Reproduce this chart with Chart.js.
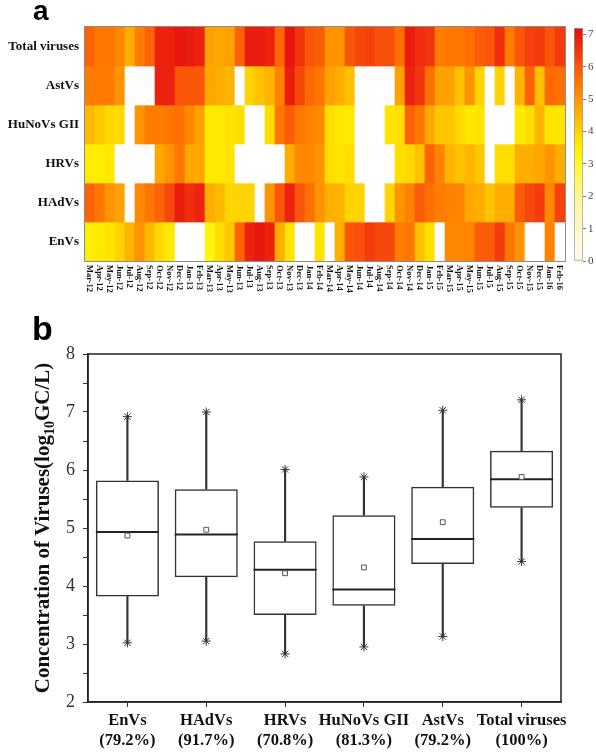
<!DOCTYPE html>
<html><head><meta charset="utf-8">
<script src="https://cdn.jsdelivr.net/npm/chart.js@4.4.1/dist/chart.umd.min.js"></script>
<style>
html,body{margin:0;padding:0;background:#fff;}
body{width:596px;height:752px;position:relative;overflow:hidden;}
canvas{position:absolute;display:block;}
</style></head><body>
<canvas id="heat" width="596" height="310" style="left:0;top:0"></canvas>
<canvas id="cbar" width="30" height="260" style="left:566px;top:15px"></canvas>
<canvas id="box" width="596" height="452" style="left:0;top:300px"></canvas>
<script>
// ---------- Panel a: heatmap data ----------
const months = ['Mar-12','Apr-12','May-12','Jun-12','Jul-12','Aug-12','Sep-12','Oct-12','Nov-12','Dec-12','Jan-13','Feb-13',
'Mar-13','Apr-13','May-13','Jun-13','Jul-13','Aug-13','Sep-13','Oct-13','Nov-13','Dec-13','Jan-14','Feb-14',
'Mar-14','Apr-14','May-14','Jun-14','Jul-14','Aug-14','Sep-14','Oct-14','Nov-14','Dec-14','Jan-15','Feb-15',
'Mar-15','Apr-15','May-15','Jun-15','Jul-15','Aug-15','Sep-15','Oct-15','Nov-15','Dec-15','Jan-16','Feb-16'];
const heatRows = ['Total viruses','AstVs','HuNoVs GII','HRVs','HAdVs','EnVs'];
const totalViruses = [5.8,5.5,5.5,5.2,4.6,5.4,5.8,6.8,6.8,7.0,6.9,6.8, 4.8,4.7,4.8,5.8,6.9,6.9,6.8,5.7,7.0,6.5,6.0,5.9, 5.0,5.0,6.0,6.2,6.3,6.1,6.1,5.6,6.9,6.6,6.5,5.4, 5.5,5.5,5.6,5.9,6.0,6.6,5.4,6.0,6.3,6.4,6.0,6.4];
const astVs = [5.4,5.4,5.4,5.0,null,null,null,6.8,6.8,6.0,6.0,6.0, 4.7,4.6,4.5,null,4.0,4.3,4.5,5.3,6.9,6.2,5.7,5.5, 4.8,4.6,4.3,null,null,null,null,4.8,6.8,6.5,5.6,4.8, 4.8,4.3,5.0,4.0,null,4.0,null,4.5,5.8,4.3,5.7,5.6];
const huNoVsGII = [4.4,4.2,3.9,3.9,null,5.0,5.4,5.4,5.5,5.6,5.2,4.8, 3.6,3.6,3.7,3.8,null,null,3.8,5.5,5.9,5.5,5.3,5.2, 3.8,3.6,3.6,null,null,null,3.7,3.8,5.8,5.5,4.7,4.2, 4.2,3.9,3.6,3.7,null,null,null,3.6,3.8,4.5,3.7,3.7];
const hrVs = [3.5,3.5,3.6,null,null,null,null,4.7,5.0,5.5,4.7,4.7, 3.6,3.6,3.7,null,null,null,null,null,4.6,5.2,5.2,5.0, 3.8,3.7,3.8,null,null,null,null,3.8,3.9,4.3,5.8,5.3, 4.5,4.3,4.5,4.2,null,3.8,3.8,4.6,4.6,4.7,5.0,4.6];
const hAdVs = [5.8,5.5,5.0,4.8,null,5.2,5.5,5.8,6.2,6.9,6.6,6.8, 4.6,4.4,4.0,4.0,4.0,null,5.0,6.0,6.8,6.0,5.6,5.0, 4.6,4.5,4.0,4.0,null,null,4.0,5.0,5.3,5.9,5.6,5.4, 5.3,5.3,4.7,4.6,4.3,4.6,4.6,5.9,6.2,6.4,5.2,6.3];
const enVs = [3.5,3.6,3.7,4.0,4.5,5.0,4.4,3.9,3.6,null,null,null, 3.3,3.8,4.2,5.8,6.8,7.0,6.8,4.6,3.7,null,null,3.7, null,4.6,6.0,6.1,6.4,6.2,6.2,5.4,5.5,4.3,3.8,null, 5.2,5.2,5.3,5.9,5.9,6.4,5.5,5.0,null,null,5.3,null];
const colorbarRange = [0, 7.2];
const colorbarStep = 1;

// ---------- Panel b: box plot data ----------
const boxCats = ['EnVs','HAdVs','HRVs','HuNoVs GII','AstVs','Total viruses'];
const detectRate = ['(79.2%)','(91.7%)','(70.8%)','(81.3%)','(79.2%)','(100%)'];
const whiskerMin = [3.02,3.05,2.83,2.95,3.13,4.42];
const q1 = [3.82,4.15,3.50,3.66,4.38,5.35];
const median = [4.93,4.89,4.28,3.94,4.81,5.84];
const mean = [4.87,4.97,4.22,4.32,5.10,5.88];
const q3 = [5.82,5.67,4.77,5.22,5.71,6.33];
const whiskerMax = [6.92,7.00,6.01,5.88,7.03,7.21];
const yRange = [2, 8];

// ---------- colour map ----------
const cmapStops = [
  [0,   [255,250,236]],
  [1,   [255,248,205]],
  [2,   [255,247,150]],
  [3,   [255,250,45]],
  [3.5, [255,238,0]],
  [4,   [255,212,0]],
  [4.5, [255,180,0]],
  [5,   [255,148,0]],
  [5.5, [255,118,0]],
  [6,   [250,86,10]],
  [6.5, [242,52,14]],
  [7,   [232,22,14]],
  [7.2, [222,12,16]]
];
function heatColor(v){
  if (v == null) return '#ffffff';
  if (v <= cmapStops[0][0]) return 'rgb(' + cmapStops[0][1].join(',') + ')';
  for (let i = 1; i < cmapStops.length; i++){
    if (v <= cmapStops[i][0]){
      const [a0,c0] = cmapStops[i-1], [a1,c1] = cmapStops[i];
      const t = (v - a0)/(a1 - a0);
      const c = c0.map((x,k)=>Math.round(x + (c1[k]-x)*t));
      return 'rgb(' + c.join(',') + ')';
    }
  }
  return 'rgb(' + cmapStops[cmapStops.length-1][1].join(',') + ')';
}

const SERIF = '"Liberation Serif","Times New Roman",serif';
const SANS = '"Liberation Sans",Arial,sans-serif';

// ---------- heatmap ----------
const heatSeries = [totalViruses, astVs, huNoVsGII, hrVs, hAdVs, enVs];
const heatDatasets = heatSeries.map((vals, r) => {
  const level = heatRows.length - 1 - r;
  return {
    type: 'bar', label: heatRows[r],
    data: vals.map(() => [level, level + 1]),
    backgroundColor: vals.map(heatColor),
    borderWidth: 0, barPercentage: 1, categoryPercentage: 1, grouped: false
  };
});

const heatDecor = {
  id: 'heatDecor',
  afterDraw(chart){
    const {ctx, chartArea: a, scales: {x, y}} = chart;
    ctx.save();
    ctx.strokeStyle = '#8c8c8c'; ctx.lineWidth = 1;
    ctx.strokeRect(a.left - 0.5, a.top - 0.5, a.right - a.left + 1, a.bottom - a.top + 1);
    ctx.fillStyle = '#111';
    ctx.font = 'bold 13px ' + SERIF; ctx.textAlign = 'right'; ctx.textBaseline = 'middle';
    heatRows.forEach((n, r) => ctx.fillText(n, a.left - 6, y.getPixelForValue(heatRows.length - r - 0.5)));
    ctx.font = 'bold 8.5px ' + SERIF; ctx.textAlign = 'left';
    months.forEach((m, i) => {
      ctx.save(); ctx.translate(x.getPixelForValue(i), a.bottom + 4); ctx.rotate(Math.PI / 2);
      ctx.fillText(m, 0, 0.5); ctx.restore();
    });
    ctx.font = 'bold 28px ' + SANS; ctx.textBaseline = 'alphabetic'; ctx.fillStyle = '#000';
    ctx.fillText('a', 33, 20);
    ctx.restore();
  }
};

new Chart(document.getElementById('heat'), {
  type: 'bar',
  data: { labels: months, datasets: heatDatasets },
  options: {
    responsive: false, animation: false, devicePixelRatio: 1, events: [],
    layout: { padding: { left: 85, top: 27, right: 31, bottom: 49 } },
    plugins: { legend: { display: false }, tooltip: { enabled: false } },
    scales: { x: { display: false, offset: true }, y: { display: false, min: 0, max: heatRows.length } }
  },
  plugins: [heatDecor]
});

// ---------- colour bar ----------
new Chart(document.getElementById('cbar'), {
  type: 'bar',
  data: { labels: [''], datasets: [{
    data: [colorbarRange],
    backgroundColor: (c) => {
      const ch = c.chart; if (!ch.chartArea) return '#fff';
      const ys = ch.scales.y;
      const g = ch.ctx.createLinearGradient(0, ys.getPixelForValue(colorbarRange[0]), 0, ys.getPixelForValue(colorbarRange[1]));
      cmapStops.forEach(([v, col]) => g.addColorStop((v - colorbarRange[0]) / (colorbarRange[1] - colorbarRange[0]), 'rgb(' + col.join(',') + ')'));
      return g;
    },
    borderColor: '#9a9a9a', borderWidth: 1, borderSkipped: false,
    barPercentage: 1, categoryPercentage: 1
  }]},
  options: {
    responsive: false, animation: false, devicePixelRatio: 1, events: [],
    layout: { padding: { left: 8, top: 13, right: 0, bottom: 14 } },
    plugins: { legend: { display: false }, tooltip: { enabled: false } },
    scales: {
      x: { display: false },
      y: { position: 'right', min: colorbarRange[0], max: colorbarRange[1],
        afterFit: (s) => { s.width = 13; },
        border: { display: false },
        grid: { drawOnChartArea: false, tickLength: 3, color: '#777' },
        ticks: { stepSize: colorbarStep, includeBounds: false, padding: 2, color: '#444', font: { family: SERIF, size: 11 } } }
    }
  }
});

// ---------- box plot ----------
const medianHalfWidth = (c) => {
  const xs = c.chart.scales.x; if (!xs) return 30;
  return xs.width / boxCats.length * 0.8 / 2;
};
const boxDecor = {
  id: 'boxDecor',
  afterDraw(chart){
    const {ctx, chartArea: a} = chart;
    ctx.save();
    ctx.strokeStyle = '#222'; ctx.lineWidth = 1.5;
    ctx.strokeRect(a.left, a.top, a.right - a.left, a.bottom - a.top);
    // y title with subscript
    const parts = [['Concentration of Viruses(log', 21, 0], ['10', 14, 5], ['GC/L)', 21, 0]];
    let total = 0;
    parts.forEach(p => { ctx.font = 'bold ' + p[1] + 'px ' + SERIF; p.push(ctx.measureText(p[0]).width); total += p[3]; });
    ctx.translate(49, (a.top + a.bottom) / 2); ctx.rotate(-Math.PI / 2);
    ctx.fillStyle = '#111'; ctx.textAlign = 'left'; ctx.textBaseline = 'alphabetic';
    let xx = -total / 2;
    parts.forEach(p => { ctx.font = 'bold ' + p[1] + 'px ' + SERIF; ctx.fillText(p[0], xx, p[2]); xx += p[3]; });
    ctx.restore();
    ctx.save();
    ctx.font = 'bold 34px ' + SANS; ctx.fillStyle = '#000'; ctx.textBaseline = 'alphabetic';
    ctx.fillText('b', 32, 40);
    ctx.restore();
  }
};

new Chart(document.getElementById('box'), {
  type: 'bar',
  data: {
    labels: boxCats.map((c, i) => [c, detectRate[i]]),
    datasets: [
      { type: 'bar', data: q1.map((v, i) => [v, q3[i]]), backgroundColor: 'rgba(0,0,0,0)', borderColor: '#333',
        borderWidth: 1.5, borderSkipped: false, barPercentage: 0.8, categoryPercentage: 1, grouped: false, order: 3 },
      { type: 'bar', data: whiskerMin.map((v, i) => [v, q1[i]]), backgroundColor: '#333', borderWidth: 0,
        barThickness: 1.5, grouped: false, order: 3 },
      { type: 'bar', data: q3.map((v, i) => [v, whiskerMax[i]]), backgroundColor: '#333', borderWidth: 0,
        barThickness: 1.5, grouped: false, order: 3 },
      { type: 'line', data: median, showLine: false, pointStyle: 'line', pointRadius: medianHalfWidth,
        pointBorderColor: '#222', pointBorderWidth: 2, order: 1 },
      { type: 'line', data: mean, showLine: false, pointStyle: 'rect', pointRadius: 3.4,
        pointBackgroundColor: '#fff', pointBorderColor: '#555', pointBorderWidth: 1, order: 0 },
      { type: 'line', data: whiskerMin, showLine: false, pointStyle: 'star', pointRadius: 4.5,
        pointBorderColor: '#333', pointBorderWidth: 1, order: 0 },
      { type: 'line', data: whiskerMax, showLine: false, pointStyle: 'star', pointRadius: 4.5,
        pointBorderColor: '#333', pointBorderWidth: 1, order: 0 }
    ]
  },
  options: {
    responsive: false, animation: false, devicePixelRatio: 1, events: [],
    layout: { padding: { left: 0, top: 54, right: 35, bottom: 0 } },
    plugins: { legend: { display: false }, tooltip: { enabled: false } },
    scales: {
      x: {
        afterFit: (s) => { s.height = 50; },
        border: { display: true, color: '#222', width: 1.5 },
        grid: { offset: false, drawOnChartArea: false, tickLength: 5, color: '#333' },
        ticks: { color: '#111', padding: 4, maxRotation: 0, minRotation: 0, autoSkip: false,
          font: { family: SERIF, size: 16.5, weight: 'bold', lineHeight: 1.2 } }
      },
      y: {
        min: yRange[0], max: yRange[1],
        afterFit: (s) => { s.width = 88; },
        border: { display: true, color: '#222', width: 1.5 },
        grid: { drawOnChartArea: false, tickLength: 5, color: '#333' },
        ticks: { stepSize: 0.5, padding: 8, color: '#333', font: { family: SERIF, size: 18 },
          callback: (v) => Number.isInteger(v) ? String(v) : '' }
      }
    }
  },
  plugins: [boxDecor]
});
</script>
</body></html>
